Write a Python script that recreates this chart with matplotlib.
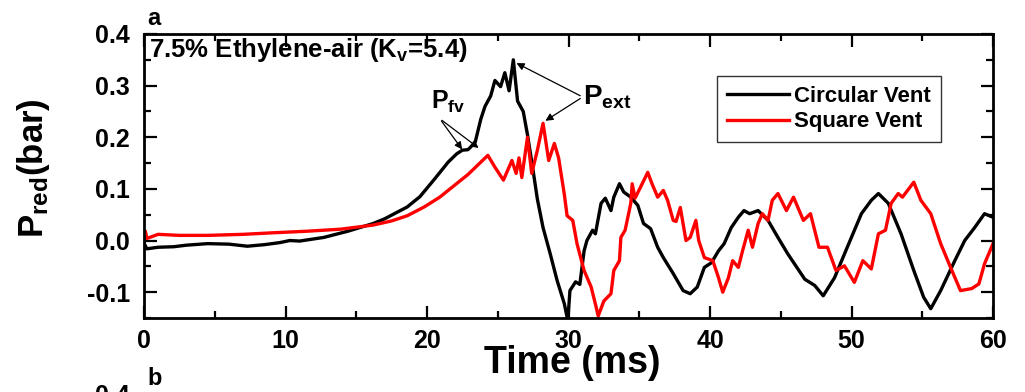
import matplotlib
matplotlib.use("Agg")
import matplotlib.pyplot as plt
from matplotlib.ticker import MultipleLocator

plt.rcParams["font.family"] = ["Liberation Sans", "DejaVu Sans"]
plt.rcParams["font.weight"] = "bold"
plt.rcParams["axes.labelweight"] = "bold"
plt.rcParams["mathtext.fontset"] = "custom"
plt.rcParams["mathtext.rm"] = "Liberation Sans:bold"
plt.rcParams["mathtext.bf"] = "Liberation Sans:bold"
plt.rcParams["mathtext.it"] = "Liberation Sans:bold"

# circular vent pressure trace (ms, bar)
circ_t = [0, 0.2, 1, 2.1, 3, 4.5, 6, 7.3, 8.5, 9.6, 10.3, 11, 12.7, 14.4, 16.2, 17,
          18.6, 19.5, 20.5, 21.5, 22.1, 22.5, 22.9, 23.4, 23.8, 24.1, 24.5, 24.8,
          25.2, 25.5, 25.8, 26.1, 26.4, 26.8, 27.1, 27.5, 27.8, 28.2, 28.7, 29.2,
          29.7, 29.95, 30.1, 30.5, 30.8, 31.1, 31.3, 31.7, 31.9, 32.3, 32.6, 33.0,
          33.2, 33.6, 33.9, 34.4, 34.9, 35.3, 35.8, 36.3, 36.7, 37.4, 38.1, 38.6,
          39.1, 39.6, 40.1, 40.6, 41.0, 41.5, 42.0, 42.4, 42.8, 43.4, 44.1, 44.8,
          45.5, 46.7, 47.4, 48.0, 48.8, 49.7, 50.7, 51.4, 51.9, 52.6, 53.5, 54.4,
          55.1, 55.6, 56.3, 57.3, 58.0, 58.7, 59.4, 60.0]
circ_p = [-0.005, -0.016, -0.013, -0.012, -0.009, -0.006, -0.007, -0.011, -0.008,
          -0.004, 0.0, -0.001, 0.006, 0.018, 0.033, 0.042, 0.065, 0.085, 0.118,
          0.152, 0.168, 0.175, 0.176, 0.19, 0.235, 0.26, 0.28, 0.31, 0.298, 0.325,
          0.29, 0.35, 0.27, 0.25, 0.205, 0.135, 0.08, 0.025, -0.025, -0.078,
          -0.122, -0.155, -0.097, -0.08, -0.085, -0.02, 0.0, 0.02, 0.013, 0.072,
          0.082, 0.058, 0.084, 0.11, 0.094, 0.084, 0.068, 0.033, 0.023, -0.013,
          -0.033, -0.064, -0.097, -0.103, -0.09, -0.052, -0.043, -0.02, -0.006,
          0.025, 0.045, 0.058, 0.052, 0.058, 0.039, 0.006, -0.026, -0.075, -0.087,
          -0.107, -0.072, -0.013, 0.052, 0.078, 0.091, 0.072, 0.013, -0.058, -0.11,
          -0.132, -0.097, -0.039, 0.0, 0.025, 0.052, 0.045]

# square vent pressure trace (ms, bar)
sq_t = [0, 0.1, 0.2, 1, 2.5, 4.5, 7, 9.1, 11.5, 13.9, 16.2, 17.5, 18.6, 19.8, 20.9,
        21.4, 22.9, 24.3, 24.8, 25.4, 26.0, 26.3, 26.5, 26.7, 27.1, 27.4, 27.8,
        28.2, 28.6, 29.0, 29.3, 29.7, 29.9, 30.3, 30.6, 31.1, 31.6, 31.9, 32.1,
        32.5, 33.0, 33.2, 33.6, 33.7, 34.0, 34.4, 34.5, 34.7, 35.1, 35.6, 35.9,
        36.3, 36.7, 37.0, 37.4, 37.6, 37.9, 38.3, 38.6, 39.0, 39.2, 39.6, 40.2,
        40.6, 40.9, 41.3, 41.6, 42.0, 42.3, 42.7, 43.0, 43.4, 43.7, 44.1, 44.4,
        44.8, 45.4, 45.9, 46.6, 47.1, 47.7, 48.3, 48.9, 49.5, 50.2, 50.8, 51.4,
        51.9, 52.4, 52.8, 53.3, 53.6, 54.4, 54.9, 55.6, 56.3, 57.0, 57.7, 58.5,
        59.0, 59.4, 60.0]
sq_p = [0.012, 0.018, 0.004, 0.012, 0.01, 0.01, 0.012, 0.015, 0.018, 0.022, 0.03,
        0.038, 0.048, 0.065, 0.084, 0.095, 0.128, 0.165, 0.142, 0.117, 0.155, 0.13,
        0.16, 0.122, 0.2, 0.13, 0.175, 0.227, 0.155, 0.188, 0.16, 0.09, 0.048,
        0.039, -0.006, -0.058, -0.09, -0.123, -0.146, -0.117, -0.103, -0.058,
        -0.039, 0.006, 0.02, 0.072, 0.11, 0.082, 0.104, 0.132, 0.11, 0.084, 0.097,
        0.078, 0.039, 0.037, 0.064, 0.0, 0.006, 0.039, 0.0, -0.033, -0.039, -0.072,
        -0.1, -0.072, -0.039, -0.052, -0.02, 0.02, -0.013, 0.033, 0.052, 0.039,
        0.078, 0.091, 0.058, 0.084, 0.039, 0.052, -0.013, -0.013, -0.058, -0.049,
        -0.081, -0.039, -0.055, 0.013, 0.02, 0.072, 0.091, 0.084, 0.113, 0.078,
        0.052, -0.006, -0.052, -0.097, -0.093, -0.084, -0.045, -0.006]

x_ticks = [0, 10, 20, 30, 40, 50, 60]
y_ticks = [-0.1, 0.0, 0.1, 0.2, 0.3, 0.4]


def style_axes(ax):
    ax.set_xlim(0, 60)
    ax.set_ylim(-0.15, 0.4)
    ax.set_xticks(x_ticks)
    ax.set_yticks(y_ticks)
    ax.set_yticklabels([f"{v:.1f}" for v in y_ticks])
    ax.xaxis.set_minor_locator(MultipleLocator(5))
    ax.yaxis.set_minor_locator(MultipleLocator(0.05))
    ax.tick_params(which="both", direction="in", top=True, right=True,
                   labeltop=False, labelright=False, width=1.6)
    ax.tick_params(which="major", length=9, labelsize=18)
    ax.tick_params(which="minor", length=5)
    ax.tick_params(axis="y", pad=10)
    ax.tick_params(axis="x", pad=8)
    for sp in ax.spines.values():
        sp.set_linewidth(2)


def panel_letter(ax, letter):
    ax.annotate(letter, xy=(0.004, 1.0), xycoords="axes fraction",
                xytext=(0, 6.5), textcoords="offset points",
                fontsize=17, fontweight="bold", va="baseline")


fig = plt.figure(figsize=(10.25, 3.92), dpi=100)
ax = fig.add_axes([0.1405, 0.1888, 0.8283, 0.7245])
ax.plot(circ_t, circ_p, color="black", lw=2.4, label="Circular Vent")
ax.plot(sq_t, sq_p, color="red", lw=2.4, label="Square Vent")
style_axes(ax)

ax.set_xlabel("Time (ms)", fontsize=27, fontweight="bold")
ax.xaxis.set_label_coords(0.504, -0.095)
ax.set_ylabel(r"$\mathrm{P_{red}}$(bar)", fontsize=25, fontweight="bold")
ax.yaxis.set_label_coords(-0.108, 0.528)

panel_letter(ax, "a")
ax.text(0.006, 0.945, r"7.5% Ethylene-air (K$_\mathrm{v}$=5.4)",
        transform=ax.transAxes, fontsize=18.5, va="center")

# P_fv annotation
ax.text(20.3, 0.268, r"$\mathrm{P_{fv}}$", fontsize=18, va="center")
for tx, ty in [(22.6, 0.172), (23.8, 0.176)]:
    ax.annotate("", xy=(tx, ty), xytext=(20.9, 0.236),
                arrowprops=dict(arrowstyle="-|>", color="black", lw=0.9,
                                mutation_scale=11))

# P_ext annotation
ax.text(31.0, 0.278, r"$\mathrm{P_{ext}}$", fontsize=20, va="center")
for tx, ty in [(26.15, 0.346), (28.2, 0.229)]:
    ax.annotate("", xy=(tx, ty), xytext=(31.0, 0.278),
                arrowprops=dict(arrowstyle="-|>", color="black", lw=0.9,
                                mutation_scale=11))

leg = ax.legend(loc="upper left", bbox_to_anchor=(0.675, 0.852), fontsize=16,
                frameon=True, fancybox=False, edgecolor="black",
                borderaxespad=0, handlelength=2.8, handletextpad=0.2,
                borderpad=0.45, labelspacing=0.2)
leg.get_frame().set_linewidth(1.0)

# top of the next panel (b), cut off by the figure edge
ax_b = fig.add_axes([0.1405, -0.705, 0.8283, 0.7])
ax_b.plot(circ_t, circ_p, color="black", lw=2.4)
ax_b.plot(sq_t, sq_p, color="red", lw=2.4)
style_axes(ax_b)
ax_b.tick_params(labelbottom=False)
panel_letter(ax_b, "b")

fig.savefig("out.png", dpi=100)
plt.close(fig)
